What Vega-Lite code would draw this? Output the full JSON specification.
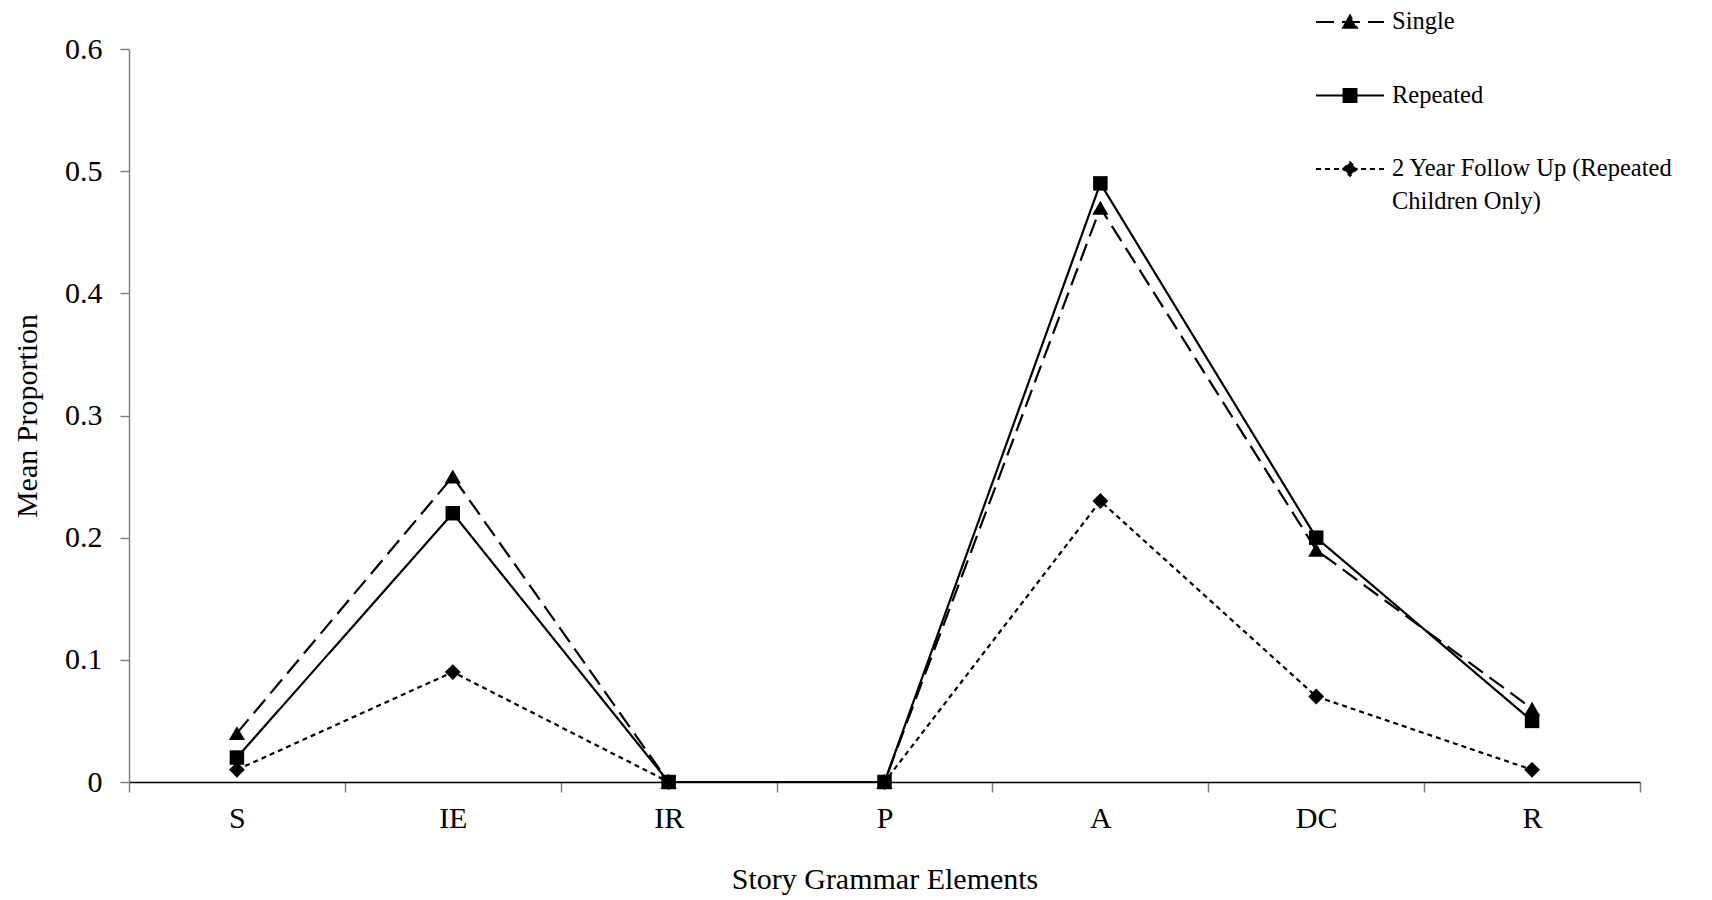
{
  "$schema": "https://vega.github.io/schema/vega-lite/v6.json",
  "width": 1511,
  "height": 733,
  "autosize": {"type": "none"},
  "padding": {"left": 129, "top": 49, "right": 72, "bottom": 118},
  "background": "white",
  "data": {
    "values": [
      {"element": "S", "series": "2 Year Follow Up (Repeated Children Only)", "value": 0.01},
      {"element": "IE", "series": "2 Year Follow Up (Repeated Children Only)", "value": 0.09},
      {"element": "IR", "series": "2 Year Follow Up (Repeated Children Only)", "value": 0},
      {"element": "P", "series": "2 Year Follow Up (Repeated Children Only)", "value": 0},
      {"element": "A", "series": "2 Year Follow Up (Repeated Children Only)", "value": 0.23},
      {"element": "DC", "series": "2 Year Follow Up (Repeated Children Only)", "value": 0.07},
      {"element": "R", "series": "2 Year Follow Up (Repeated Children Only)", "value": 0.01},
      {"element": "S", "series": "Single", "value": 0.04},
      {"element": "IE", "series": "Single", "value": 0.25},
      {"element": "IR", "series": "Single", "value": 0},
      {"element": "P", "series": "Single", "value": 0},
      {"element": "A", "series": "Single", "value": 0.47},
      {"element": "DC", "series": "Single", "value": 0.19},
      {"element": "R", "series": "Single", "value": 0.06},
      {"element": "S", "series": "Repeated", "value": 0.02},
      {"element": "IE", "series": "Repeated", "value": 0.22},
      {"element": "IR", "series": "Repeated", "value": 0},
      {"element": "P", "series": "Repeated", "value": 0},
      {"element": "A", "series": "Repeated", "value": 0.49},
      {"element": "DC", "series": "Repeated", "value": 0.20},
      {"element": "R", "series": "Repeated", "value": 0.05}
    ]
  },
  "encoding": {
    "x": {
      "field": "element",
      "type": "nominal",
      "sort": ["S", "IE", "IR", "P", "A", "DC", "R"],
      "scale": {"paddingInner": 0, "paddingOuter": 0},
      "axis": {
        "title": "Story Grammar Elements",
        "titleFont": "Liberation Serif",
        "titleFontSize": 30,
        "titleFontWeight": "normal",
        "titleColor": "black",
        "titlePadding": 31,
        "labelFont": "Liberation Serif",
        "labelFontSize": 30,
        "labelColor": "black",
        "labelAngle": 0,
        "labelPadding": 11,
        "tickColor": "#808080",
        "tickSize": 10,
        "tickWidth": 1.5,
        "tickBand": "extent",
        "domainColor": "black",
        "domainWidth": 1.5,
        "grid": false
      }
    },
    "y": {
      "field": "value",
      "type": "quantitative",
      "scale": {"domain": [0, 0.6], "nice": false, "zero": true},
      "axis": {
        "title": "Mean Proportion",
        "titleFont": "Liberation Serif",
        "titleFontSize": 30,
        "titleFontWeight": "normal",
        "titleColor": "black",
        "titlePadding": 22,
        "labelFont": "Liberation Serif",
        "labelFontSize": 30,
        "labelColor": "black",
        "labelPadding": 18,
        "values": [0, 0.1, 0.2, 0.3, 0.4, 0.5, 0.6],
        "format": ".1~f",
        "tickColor": "#808080",
        "tickSize": 9,
        "tickWidth": 1.5,
        "domainColor": "#808080",
        "domainWidth": 1.5,
        "grid": false,
        "zindex": 1
      }
    }
  },
  "layer": [
    {
      "mark": {"type": "line", "color": "black", "strokeWidth": 2.2},
      "encoding": {
        "detail": {"field": "series"},
        "strokeDash": {
          "field": "series",
          "type": "nominal",
          "scale": {
            "domain": ["Single", "Repeated", "2 Year Follow Up (Repeated Children Only)"],
            "range": [[18, 8], [1, 0], [5, 4]]
          },
          "legend": {
            "orient": "none",
            "legendX": 1186,
            "legendY": -62,
            "title": null,
            "padding": 0,
            "symbolSize": 4624,
            "symbolStrokeWidth": 2,
            "symbolStrokeColor": "black",
            "symbolFillColor": "black",
            "labelFont": "Liberation Serif",
            "labelFontSize": 24.5,
            "labelColor": "black",
            "labelOffset": 7,
            "labelLimit": 500,
            "rowPadding": 26.5,
            "labelExpr": "datum.label === '2 Year Follow Up (Repeated Children Only)' ? ['2 Year Follow Up (Repeated', 'Children Only)'] : datum.label",
            "encode": {
              "symbols": {
                "update": {
                  "shape": {"signal": "datum.value === 'Single' ? 'M-1,0L1,0M-0.2,0.17L0,-0.19L0.2,0.17Z' : datum.value === 'Repeated' ? 'M-1,0L1,0M-0.19,-0.19L0.19,-0.19L0.19,0.19L-0.19,0.19Z' : 'M-1,0L1,0M-0.2,0L0,-0.2L0.2,0L0,0.2Z'"},
                  "fill": {"value": "black"},
                  "stroke": {"value": "black"},
                  "strokeWidth": {"value": 2},
                  "opacity": {"value": 1}
                }
              },
              "labels": {
                "update": {
                  "lineHeight": {"value": 33}
                }
              }
            }
          }
        }
      }
    },
    {
      "transform": [{"filter": "datum.series === '2 Year Follow Up (Repeated Children Only)'"}],
      "mark": {"type": "point", "filled": true, "color": "black", "opacity": 1, "strokeWidth": 0, "shape": "diamond", "size": 250},
      "encoding": {}
    },
    {
      "transform": [{"filter": "datum.series === 'Single'"}],
      "mark": {"type": "point", "filled": true, "color": "black", "opacity": 1, "strokeWidth": 0, "shape": "triangle-up", "size": 260},
      "encoding": {}
    },
    {
      "transform": [{"filter": "datum.series === 'Repeated'"}],
      "mark": {"type": "point", "filled": true, "color": "black", "opacity": 1, "strokeWidth": 0, "shape": "square", "size": 210},
      "encoding": {}
    }
  ],
  "config": {
    "view": {"stroke": null},
    "font": "Liberation Serif"
  }
}
